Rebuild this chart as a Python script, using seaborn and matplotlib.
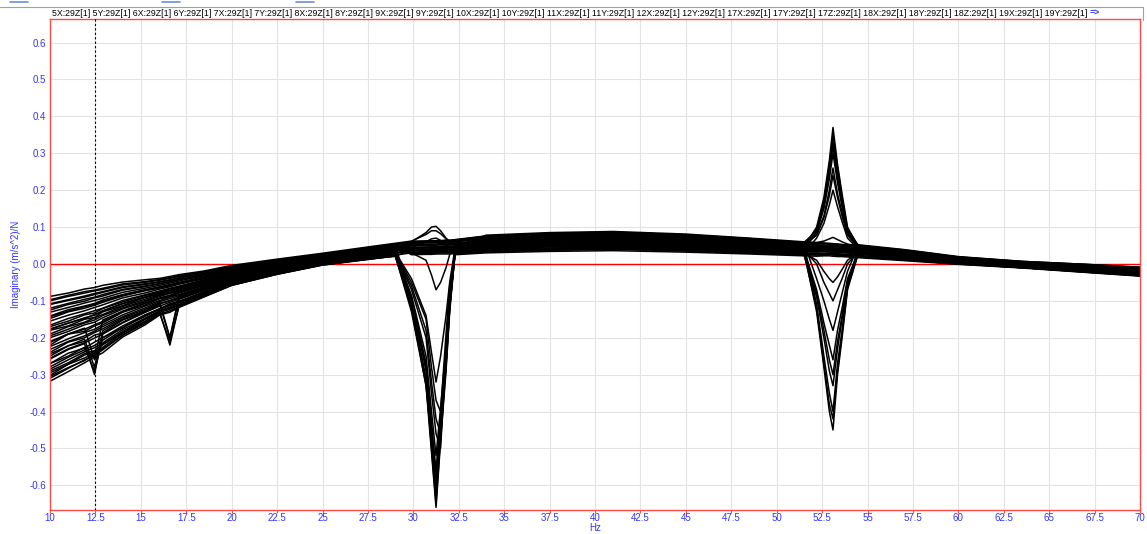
import numpy as np
import pandas as pd
import matplotlib
matplotlib.use("Agg")
import matplotlib.pyplot as plt
import seaborn as sns

# ---------------- data ----------------
freq_hz = [10, 11, 11.9, 12.45, 12.9, 14, 15.2, 16.05, 16.6, 17.1,
           18.5, 20, 22.5, 25, 27.5, 29, 29.9, 30.7, 31.0, 31.25,
           31.5, 31.8, 32.0, 32.3, 34, 37.5, 41, 45, 48.5, 51.5,
           52.2, 52.6, 52.9, 53.1, 53.35, 53.6, 53.9, 54.5, 57, 60,
           63.5, 67, 70]

y_5X = [-0.318, -0.292, -0.268, -0.252, -0.241, -0.198, -0.166, -0.138, -0.131, -0.118, -0.089, -0.058, -0.028, -0.003, 0.012, 0.022,
        -0.12, -0.33, -0.51, -0.66, -0.48, -0.29, -0.13, 0.03,
        0.044, 0.049, 0.051, 0.046, 0.039,
        0.033, 0.032, 0.034, 0.035, 0.034, 0.033, 0.031, 0.03, 0.027,
        0.018, 0.005, -0.006, -0.017, -0.027]
y_5Y = [-0.295, -0.272, -0.247, -0.238, -0.219, -0.187, -0.151, -0.132, -0.22, -0.112, -0.081, -0.054, -0.024, 0.0, 0.016, 0.026,
        -0.11, -0.31, -0.49, -0.63, -0.46, -0.27, -0.12, 0.035,
        0.059, 0.065, 0.067, 0.061, 0.053,
        0.046, 0.045, 0.044, 0.045, 0.044, 0.043, 0.042, 0.041, 0.039,
        0.027, 0.012, 0.0, -0.01, -0.018]
y_6X = [-0.305, -0.281, -0.262, -0.244, -0.23, -0.193, -0.158, -0.136, -0.21, -0.115, -0.086, -0.057, -0.027, -0.002, 0.013, 0.021,
        -0.10, -0.29, -0.46, -0.60, -0.44, -0.26, -0.11, 0.028,
        0.039, 0.043, 0.046, 0.041, 0.034,
        0.029, 0.028, 0.029, 0.03, 0.029, 0.028, 0.027, 0.026, 0.023,
        0.014, 0.002, -0.009, -0.02, -0.03]
y_6Y = [-0.285, -0.26, -0.238, -0.227, -0.214, -0.178, -0.148, -0.126, -0.117, -0.106, -0.08, -0.051, -0.024, 0.001, 0.016, 0.024,
        -0.09, -0.27, -0.43, -0.56, -0.41, -0.24, -0.10, 0.04,
        0.067, 0.073, 0.076, 0.07, 0.061,
        0.052, 0.051, 0.05, 0.05, 0.049, 0.048, 0.047, 0.046, 0.045,
        0.032, 0.015, 0.003, -0.006, -0.014]
y_7X = [-0.27, -0.242, -0.228, -0.212, -0.2, -0.168, -0.139, -0.121, -0.108, -0.101, -0.075, -0.048, -0.021, 0.003, 0.018, 0.026,
        -0.085, -0.25, -0.40, -0.52, -0.39, -0.23, -0.09, 0.036,
        0.049, 0.055, 0.057, 0.052, 0.044,
        0.037, 0.036, 0.037, 0.037, 0.036, 0.035, 0.034, 0.033, 0.031,
        0.021, 0.007, -0.004, -0.014, -0.024]
y_7Y = [-0.258, -0.232, -0.216, -0.30, -0.19, -0.16, -0.132, -0.114, -0.104, -0.096, -0.071, -0.046, -0.019, 0.004, 0.02, 0.028,
        -0.06, -0.18, -0.32, -0.42, -0.46, -0.22, -0.07, 0.04,
        0.057, 0.062, 0.065, 0.058, 0.05,
        0.043, 0.042, 0.042, 0.042, 0.041, 0.04, 0.039, 0.038, 0.036,
        0.025, 0.01, -0.001, -0.011, -0.02]
y_8X = [-0.244, -0.222, -0.204, -0.28, -0.181, -0.15, -0.127, -0.107, -0.099, -0.09, -0.067, -0.042, -0.016, 0.006, 0.022, 0.03,
        -0.05, -0.15, -0.28, -0.37, -0.40, -0.19, -0.06, 0.027,
        0.033, 0.038, 0.04, 0.036, 0.03,
        0.025, 0.024, 0.024, 0.025, 0.024, 0.023, 0.022, 0.021, 0.019,
        0.011, 0.0, -0.01, -0.022, -0.032]
y_8Y = [-0.232, -0.21, -0.195, -0.182, -0.17, -0.143, -0.12, -0.102, -0.094, -0.086, -0.063, -0.04, -0.014, 0.007, 0.023, 0.032,
        -0.04, -0.14, -0.24, -0.32, -0.25, -0.14, -0.05, 0.045,
        0.072, 0.079, 0.081, 0.075, 0.066,
        0.057, 0.055, 0.055, 0.054, 0.053, 0.052, 0.051, 0.05, 0.049,
        0.035, 0.017, 0.005, -0.004, -0.012]
y_9X = [-0.224, -0.203, -0.186, -0.177, -0.165, -0.138, -0.115, -0.099, -0.09, -0.083, -0.061, -0.037, -0.012, 0.009, 0.025, 0.034,
        0.042, 0.044, 0.045, 0.045, 0.046, 0.046, 0.046, 0.047,
        0.054, 0.06, 0.062, 0.056, 0.048,
        0.045, 0.10, 0.18, 0.28, 0.37, 0.27, 0.19, 0.10, 0.045,
        0.024, 0.009, -0.002, -0.012, -0.021]
y_9Y = [-0.213, -0.19, -0.177, -0.165, -0.156, -0.129, -0.108, -0.093, -0.086, -0.078, -0.057, -0.035, -0.01, 0.011, 0.027, 0.036,
        0.06, 0.062, 0.062, 0.063, 0.063, 0.064, 0.064, 0.065,
        0.075, 0.082, 0.085, 0.078, 0.068,
        0.058, 0.09, 0.17, 0.27, 0.35, 0.26, 0.18, 0.095, 0.05,
        0.037, 0.018, 0.006, -0.002, -0.01]
y_10X = [-0.2, -0.183, -0.165, -0.158, -0.146, -0.122, -0.103, -0.088, -0.08, -0.074, -0.054, -0.031, -0.008, 0.013, 0.028, 0.037,
         0.035, 0.036, 0.036, 0.037, 0.037, 0.037, 0.037, 0.038,
         0.044, 0.049, 0.051, 0.046, 0.039,
         0.033, 0.09, 0.16, 0.25, 0.33, 0.24, 0.17, 0.09, 0.044,
         0.018, 0.004, -0.006, -0.017, -0.027]
y_10Y = [-0.19, -0.17, -0.158, -0.146, -0.137, -0.115, -0.096, -0.083, -0.076, -0.068, -0.05, -0.029, -0.006, 0.014, 0.03, 0.039,
         0.05, 0.05, 0.051, 0.051, 0.052, 0.052, 0.052, 0.053,
         0.062, 0.068, 0.07, 0.064, 0.056,
         0.047, 0.085, 0.15, 0.23, 0.30, 0.22, 0.155, 0.085, 0.043,
         0.029, 0.013, 0.001, -0.008, -0.017]
y_11X = [-0.178, -0.16, -0.148, -0.137, -0.128, -0.107, -0.091, -0.078, -0.071, -0.065, -0.047, -0.026, -0.004, 0.016, 0.032, 0.041,
         0.052, 0.053, 0.054, 0.054, 0.055, 0.055, 0.055, 0.056,
         0.065, 0.071, 0.073, 0.067, 0.058,
         0.05, 0.08, 0.13, 0.2, 0.26, 0.19, 0.14, 0.08, 0.042,
         0.03, 0.014, 0.002, -0.007, -0.016]
y_11Y = [-0.166, -0.148, -0.135, -0.127, -0.12, -0.099, -0.084, -0.073, -0.066, -0.06, -0.043, -0.024, -0.002, 0.017, 0.033, 0.042,
         0.03, 0.031, 0.031, 0.032, 0.032, 0.032, 0.032, 0.033,
         0.039, 0.043, 0.045, 0.041, 0.034,
         0.03, 0.07, 0.11, 0.16, 0.20, 0.155, 0.115, 0.07, 0.04,
         0.014, 0.002, -0.009, -0.02, -0.03]
y_12X = [-0.155, -0.139, -0.127, -0.118, -0.111, -0.092, -0.079, -0.068, -0.062, -0.055, -0.04, -0.021, 0.0, 0.019, 0.035, 0.045,
         0.04, 0.04, 0.041, 0.041, 0.042, 0.042, 0.042, 0.043,
         0.049, 0.054, 0.057, 0.052, 0.044,
         0.035, -0.13, -0.28, -0.40, -0.45, -0.30, -0.20, -0.07, 0.03,
         0.021, 0.007, -0.004, -0.014, -0.024]
y_12Y = [-0.143, -0.128, -0.116, -0.109, -0.101, -0.084, -0.072, -0.063, -0.057, -0.051, -0.036, -0.018, 0.002, 0.02, 0.037, 0.047,
         0.056, 0.057, 0.057, 0.058, 0.058, 0.058, 0.059, 0.06,
         0.07, 0.076, 0.078, 0.072, 0.063,
         0.052, -0.11, -0.25, -0.35, -0.40, -0.27, -0.18, -0.06, 0.045,
         0.034, 0.016, 0.004, -0.005, -0.013]
y_17X = [-0.131, -0.118, -0.106, -0.099, -0.093, -0.077, -0.066, -0.058, -0.052, -0.046, -0.032, -0.015, 0.005, 0.022, 0.039, 0.049,
         0.025, 0.026, 0.026, 0.027, 0.027, 0.027, 0.027, 0.028,
         0.033, 0.037, 0.04, 0.035, 0.029,
         0.025, -0.09, -0.2, -0.29, -0.33, -0.23, -0.15, -0.05, 0.028,
         0.011, 0.0, -0.01, -0.022, -0.032]
y_17Y = [-0.12, -0.107, -0.096, -0.09, -0.083, -0.069, -0.06, -0.053, -0.047, -0.042, -0.029, -0.013, 0.007, 0.024, 0.041, 0.05,
         0.045, 0.045, 0.046, 0.046, 0.047, 0.047, 0.047, 0.048,
         0.055, 0.061, 0.063, 0.057, 0.049,
         0.04, -0.07, -0.16, -0.22, -0.26, -0.18, -0.12, -0.04, 0.035,
         0.024, 0.009, -0.002, -0.012, -0.021]
y_17Z = [-0.108, -0.097, -0.087, -0.08, -0.075, -0.062, -0.054, -0.048, -0.043, -0.037, -0.025, -0.01, 0.009, 0.026, 0.043, 0.052,
         0.061, 0.062, 0.062, 0.063, 0.063, 0.064, 0.064, 0.066,
         0.076, 0.083, 0.086, 0.079, 0.069,
         0.058, -0.04, -0.1, -0.15, -0.18, -0.13, -0.08, -0.02, 0.05,
         0.038, 0.019, 0.007, -0.001, -0.009]
y_18X = [-0.097, -0.085, -0.075, -0.071, -0.066, -0.054, -0.048, -0.042, -0.037, -0.032, -0.021, -0.006, 0.011, 0.027, 0.044, 0.054,
         0.06, 0.085, 0.10, 0.102, 0.09, 0.07, 0.06, 0.052,
         0.044, 0.049, 0.051, 0.046, 0.039,
         0.033, 0.033, 0.033, 0.032, 0.032, 0.031, 0.031, 0.03, 0.027,
         0.018, 0.005, -0.006, -0.017, -0.027]
y_18Y = [-0.088, -0.079, -0.068, -0.064, -0.058, -0.049, -0.043, -0.039, -0.034, -0.029, -0.019, -0.004, 0.013, 0.029, 0.046, 0.056,
         0.062, 0.08, 0.09, 0.09, 0.082, 0.068, 0.062, 0.058,
         0.06, 0.066, 0.068, 0.062, 0.054,
         0.046, 0.046, 0.047, 0.047, 0.048, 0.047, 0.046, 0.044, 0.04,
         0.028, 0.012, 0.0, -0.009, -0.018]
y_18Z = [-0.302, -0.272, -0.255, -0.241, -0.226, -0.188, -0.156, -0.131, -0.123, -0.112, -0.084, -0.056, -0.026, -0.001, 0.015, 0.024,
         0.03, 0.01, -0.03, -0.07, -0.05, -0.01, 0.025, 0.05,
         0.067, 0.073, 0.075, 0.069, 0.06,
         0.052, 0.051, 0.051, 0.05, 0.05, 0.049, 0.048, 0.047, 0.045,
         0.032, 0.015, 0.003, -0.006, -0.014]
y_19X = [-0.256, -0.23, -0.214, -0.201, -0.19, -0.158, -0.131, -0.112, -0.20, -0.094, -0.07, -0.045, -0.018, 0.004, 0.02, 0.028,
         0.036, 0.037, 0.037, 0.038, 0.038, 0.038, 0.039, 0.039,
         0.047, 0.052, 0.054, 0.049, 0.042,
         0.03, 0.01, -0.02, -0.04, -0.05, -0.035, -0.015, 0.01, 0.032,
         0.02, 0.006, -0.005, -0.015, -0.025]
y_19Y = [-0.21, -0.19, -0.174, -0.26, -0.152, -0.128, -0.106, -0.092, -0.085, -0.076, -0.056, -0.034, -0.01, 0.011, 0.027, 0.036,
         0.045, 0.06, 0.068, 0.07, 0.064, 0.05, 0.042, 0.03,
         0.036, 0.04, 0.042, 0.038, 0.032,
         0.027, 0.026, 0.027, 0.027, 0.026, 0.025, 0.024, 0.023, 0.021,
         0.012, 0.001, -0.01, -0.021, -0.031]
y_19Z = [-0.176, -0.161, -0.146, -0.139, -0.127, -0.108, -0.09, -0.079, -0.072, -0.064, -0.046, -0.026, -0.004, 0.016, 0.032, 0.042,
         0.058, 0.058, 0.059, 0.059, 0.06, 0.06, 0.06, 0.062,
         0.072, 0.079, 0.082, 0.075, 0.065,
         0.055, 0.058, 0.062, 0.068, 0.072, 0.066, 0.06, 0.054, 0.048,
         0.035, 0.017, 0.005, -0.004, -0.012]
y_20X = [-0.141, -0.124, -0.114, -0.107, -0.098, -0.083, -0.07, -0.062, -0.056, -0.05, -0.035, -0.017, 0.003, 0.021, 0.037, 0.047,
         0.042, 0.043, 0.043, 0.044, 0.044, 0.044, 0.045, 0.045,
         0.052, 0.058, 0.06, 0.054, 0.046,
         0.038, 0.0, -0.05, -0.08, -0.10, -0.07, -0.04, 0.0, 0.035,
         0.022, 0.008, -0.003, -0.013, -0.022]
y_20Y = [-0.279, -0.253, -0.233, -0.221, -0.207, -0.172, -0.143, -0.122, -0.113, -0.104, -0.077, -0.05, -0.022, 0.001, 0.017, 0.025,
         -0.115, -0.32, -0.50, -0.65, -0.47, -0.28, -0.125, 0.045,
         0.078, 0.085, 0.088, 0.081, 0.07,
         0.06, 0.058, 0.057, 0.056, 0.055, 0.054, 0.053, 0.052, 0.052,
         0.039, 0.02, 0.007, -0.001, -0.009]
y_20Z = [-0.11, -0.099, -0.09, -0.083, -0.077, -0.064, -0.056, -0.049, -0.044, -0.039, -0.026, -0.01, 0.009, 0.025, 0.042, 0.051,
         -0.095, -0.28, -0.45, -0.58, -0.43, -0.25, -0.105, 0.025,
         0.03, 0.034, 0.036, 0.032, 0.027,
         0.022, 0.021, 0.022, 0.022, 0.021, 0.02, 0.02, 0.019, 0.017,
         0.009, -0.001, -0.011, -0.023, -0.033]
y_21X = [-0.29, -0.268, -0.243, -0.235, -0.218, -0.183, -0.15, -0.128, -0.12, -0.11, -0.082, -0.053, -0.025, 0.0, 0.015, 0.024,
         -0.13, -0.33, -0.48, -0.62, -0.45, -0.27, -0.12, 0.033,
         0.052, 0.058, 0.06, 0.055, 0.047,
         0.04, 0.039, 0.04, 0.04, 0.039, 0.038, 0.037, 0.036, 0.034,
         0.023, 0.008, -0.003, -0.013, -0.022]
y_21Y = [-0.25, -0.222, -0.21, -0.193, -0.187, -0.152, -0.13, -0.108, -0.1, -0.093, -0.068, -0.043, -0.017, 0.005, 0.021, 0.03,
         -0.07, -0.2, -0.35, -0.46, -0.50, -0.24, -0.08, 0.038,
         0.064, 0.071, 0.074, 0.067, 0.059,
         0.05, 0.05, 0.049, 0.049, 0.048, 0.047, 0.046, 0.045, 0.043,
         0.03, 0.014, 0.002, -0.007, -0.015]
y_21Z = [-0.22, -0.19, -0.183, -0.168, -0.16, -0.131, -0.112, -0.094, -0.089, -0.079, -0.058, -0.036, -0.011, 0.01, 0.026, 0.035,
         0.05, 0.051, 0.051, 0.052, 0.052, 0.052, 0.053, 0.053,
         0.062, 0.068, 0.071, 0.065, 0.056,
         0.05, 0.095, 0.165, 0.25, 0.32, 0.235, 0.165, 0.09, 0.046,
         0.028, 0.012, 0.001, -0.009, -0.018]
y_22X = [-0.195, -0.177, -0.16, -0.152, -0.14, -0.119, -0.1, -0.085, -0.079, -0.071, -0.052, -0.03, -0.007, 0.013, 0.029, 0.038,
         0.032, 0.033, 0.033, 0.034, 0.034, 0.034, 0.035, 0.035,
         0.041, 0.046, 0.048, 0.043, 0.037,
         0.03, -0.12, -0.27, -0.38, -0.42, -0.29, -0.19, -0.065, 0.03,
         0.017, 0.003, -0.007, -0.018, -0.028]
y_22Y = [-0.17, -0.155, -0.138, -0.133, -0.121, -0.103, -0.086, -0.076, -0.068, -0.062, -0.044, -0.025, -0.003, 0.017, 0.033, 0.042,
         0.058, 0.058, 0.059, 0.059, 0.06, 0.06, 0.06, 0.061,
         0.07, 0.077, 0.08, 0.073, 0.064,
         0.05, 0.078, 0.125, 0.185, 0.24, 0.18, 0.13, 0.078, 0.045,
         0.033, 0.016, 0.004, -0.005, -0.013]
y_22Z = [-0.125, -0.11, -0.101, -0.092, -0.087, -0.071, -0.062, -0.054, -0.049, -0.043, -0.03, -0.013, 0.006, 0.023, 0.04, 0.05,
         0.036, 0.037, 0.037, 0.037, 0.038, 0.038, 0.038, 0.039,
         0.046, 0.051, 0.053, 0.048, 0.041,
         0.033, -0.08, -0.18, -0.26, -0.30, -0.21, -0.14, -0.045, 0.032,
         0.02, 0.006, -0.004, -0.015, -0.025]
y_23X = [-0.1, -0.088, -0.079, -0.073, -0.069, -0.057, -0.05, -0.044, -0.039, -0.034, -0.022, -0.007, 0.01, 0.026, 0.043, 0.053,
         0.055, 0.06, 0.062, 0.06, 0.055, 0.05, 0.048, 0.048,
         0.05, 0.055, 0.057, 0.052, 0.044,
         0.038, 0.037, 0.038, 0.038, 0.037, 0.036, 0.035, 0.034, 0.032,
         0.022, 0.008, -0.003, -0.013, -0.023]
y_23Y = [-0.27, -0.25, -0.226, -0.29, -0.2, -0.174, -0.139, -0.122, -0.11, -0.104, -0.075, -0.05, -0.021, 0.002, 0.018, 0.027,
         0.045, 0.046, 0.046, 0.047, 0.047, 0.047, 0.048, 0.048,
         0.057, 0.063, 0.065, 0.059, 0.051,
         0.043, 0.042, 0.043, 0.043, 0.042, 0.041, 0.04, 0.039, 0.037,
         0.026, 0.011, -0.001, -0.011, -0.019]
y_23Z = [-0.24, -0.212, -0.2, -0.186, -0.176, -0.146, -0.124, -0.105, -0.2, -0.087, -0.065, -0.041, -0.015, 0.007, 0.022, 0.031,
         0.061, 0.061, 0.062, 0.062, 0.062, 0.063, 0.063, 0.064,
         0.074, 0.081, 0.084, 0.077, 0.067,
         0.056, 0.055, 0.055, 0.054, 0.054, 0.053, 0.052, 0.051, 0.05,
         0.036, 0.018, 0.006, -0.003, -0.011]
y_24X = [-0.18, -0.168, -0.15, -0.145, -0.13, -0.113, -0.091, -0.082, -0.072, -0.067, -0.047, -0.028, -0.005, 0.015, 0.031, 0.04,
         0.028, 0.028, 0.029, 0.029, 0.03, 0.03, 0.03, 0.031,
         0.036, 0.041, 0.043, 0.039, 0.033,
         0.028, 0.027, 0.027, 0.028, 0.027, 0.026, 0.025, 0.024, 0.022,
         0.013, 0.001, -0.01, -0.021, -0.031]
y_24Y = [-0.148, -0.13, -0.12, -0.112, -0.104, -0.087, -0.073, -0.065, -0.059, -0.052, -0.038, -0.019, 0.001, 0.02, 0.036, 0.046,
         0.051, 0.052, 0.052, 0.053, 0.053, 0.053, 0.054, 0.054,
         0.064, 0.07, 0.072, 0.066, 0.057,
         0.049, 0.048, 0.048, 0.048, 0.047, 0.046, 0.045, 0.044, 0.042,
         0.029, 0.013, 0.001, -0.008, -0.017]
y_24Z = [-0.31, -0.283, -0.26, -0.248, -0.233, -0.193, -0.162, -0.136, -0.127, -0.116, -0.088, -0.058, -0.028, -0.003, 0.013, 0.021,
         0.038, 0.039, 0.039, 0.04, 0.04, 0.04, 0.041, 0.041,
         0.049, 0.054, 0.056, 0.051, 0.044,
         0.038, 0.037, 0.038, 0.038, 0.037, 0.036, 0.035, 0.034, 0.032,
         0.021, 0.007, -0.004, -0.014, -0.024]

channels = ["5X", "5Y", "6X", "6Y", "7X", "7Y", "8X", "8Y", "9X", "9Y",
            "10X", "10Y", "11X", "11Y", "12X", "12Y", "17X", "17Y", "17Z",
            "18X", "18Y", "18Z", "19X", "19Y", "19Z", "20X", "20Y", "20Z",
            "21X", "21Y", "21Z", "22X", "22Y", "22Z", "23X", "23Y", "23Z",
            "24X", "24Y", "24Z"]
series = [y_5X, y_5Y, y_6X, y_6Y, y_7X, y_7Y, y_8X, y_8Y, y_9X, y_9Y,
          y_10X, y_10Y, y_11X, y_11Y, y_12X, y_12Y, y_17X, y_17Y, y_17Z,
          y_18X, y_18Y, y_18Z, y_19X, y_19Y, y_19Z, y_20X, y_20Y, y_20Z,
          y_21X, y_21Y, y_21Z, y_22X, y_22Y, y_22Z, y_23X, y_23Y, y_23Z,
          y_24X, y_24Y, y_24Z]
legend_channels = channels[:24]

x_ticks = [10, 12.5, 15, 17.5, 20, 22.5, 25, 27.5, 30, 32.5, 35, 37.5, 40,
           42.5, 45, 47.5, 50, 52.5, 55, 57.5, 60, 62.5, 65, 67.5, 70]
y_ticks = [-0.6, -0.5, -0.4, -0.3, -0.2, -0.1, 0.0, 0.1, 0.2, 0.3, 0.4, 0.5, 0.6]
cursor_hz = 12.5

# ---------------- build long table ----------------
rows = []
for ch, vals in zip(channels, series):
    assert len(vals) == len(freq_hz), ch
    for f, v in zip(freq_hz, vals):
        rows.append({"channel": ch, "Hz": f, "value": v})
df = pd.DataFrame(rows)

# ---------------- style ----------------
sns.set_theme(style="white")
plt.rcParams["font.family"] = ["Liberation Sans", "DejaVu Sans"]
plt.rcParams["axes.unicode_minus"] = False

W, H = 1147, 534
fig = plt.figure(figsize=(W / 100, H / 100), dpi=100)
ax = fig.add_axes([50 / W, 24 / H, 1090 / W, 491 / H])

blue = "#3434ff"
red = "#ff4a4a"
ax.axhline(0, color="#ff0000", lw=1.0, zorder=1.5)
sns.lineplot(data=df, x="Hz", y="value", units="channel", estimator=None,
             color="black", linewidth=1.1, sort=False, legend=False, ax=ax,
             zorder=2)
ax.axvline(cursor_hz, color="black", lw=0.8, ls=(0, (2, 2)), zorder=3)

ax.set_xlim(10, 70)
ax.set_ylim(-0.667, 0.664)
ax.set_xticks(x_ticks)
ax.set_xticklabels([f"{t:g}" for t in x_ticks])
ax.set_yticks(y_ticks)
ax.set_yticklabels([f"{t:.1f}" for t in y_ticks])
ax.grid(True, color="#e3e3e3", lw=0.8)
ax.set_axisbelow(True)
ax.tick_params(axis="x", colors=red, labelcolor=blue, labelsize=7,
               length=1.8, width=0.8, pad=0.5, direction="out", bottom=True)
ax.tick_params(axis="y", labelcolor=blue, labelsize=7, length=0, pad=3,
               left=True)
for s in ax.spines.values():
    s.set_color(red)
    s.set_linewidth(1.0)
ax.set_xlabel("Hz", color=blue, fontsize=7, labelpad=0)
ax.set_ylabel("Imaginary (m/s^2)/N", color=blue, fontsize=7, labelpad=6)

# top channel strip
legend_text = " ".join(f"{c}:29Z[1]" for c in legend_channels)
fig.text(52 / W, 1 - 13 / H, legend_text, fontsize=6.3, color="black",
         va="center", ha="left")
fig.text(1090 / W, 1 - 13 / H, "=>", fontsize=6.3, color=blue, va="center",
         ha="left", fontweight="bold")
fig.add_artist(plt.Line2D([0, 1143 / W], [1 - 7 / H, 1 - 7 / H],
                          transform=fig.transFigure, color="#a0a0a0", lw=0.8))
fig.add_artist(plt.Line2D([1143 / W, 1143 / W], [1 - 7 / H, 1 - 20 / H],
                          transform=fig.transFigure, color="#a0a0a0", lw=0.8))
for x0 in (10, 162, 296):
    fig.add_artist(plt.Line2D([x0 / W, (x0 + 18) / W], [1 - 2 / H, 1 - 2 / H],
                              transform=fig.transFigure, color="#6a8fd8", lw=1.2))

fig.savefig("out.png", dpi=100)
